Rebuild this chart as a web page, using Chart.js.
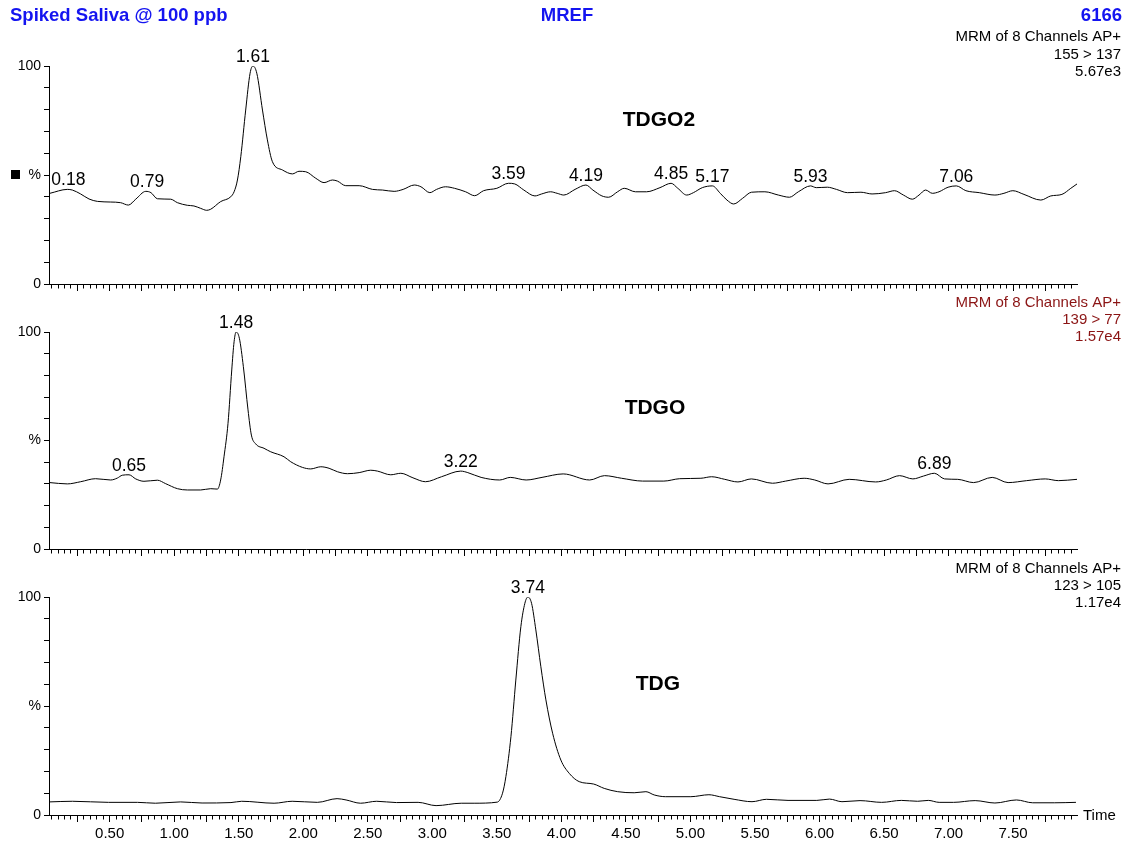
<!DOCTYPE html>
<html><head><meta charset="utf-8">
<script src="https://cdn.jsdelivr.net/npm/chart.js@4.4.0/dist/chart.umd.min.js"></script>
<style>
html,body{margin:0;padding:0;background:#fff;}
#wrap{position:relative;width:1128px;height:843px;overflow:hidden;background:#fff;}
canvas{position:absolute;left:0;}
</style></head><body>
<div id="wrap">
<canvas id="c1" width="1128" height="300" style="top:0px"></canvas>
<canvas id="c2" width="1128" height="275" style="top:290px"></canvas>
<canvas id="c3" width="1128" height="288" style="top:555px"></canvas>
</div>
<script>
// ---------------- DATA ----------------
const xTickLabels = ['0.50','1.00','1.50','2.00','2.50','3.00','3.50','4.00','4.50','5.00','5.50','6.00','6.50','7.00','7.50'];
const yTickValues = [0, 50, 100];
const yTickTexts  = ['0', '%', '100'];

// TDGO2  (MRM 155 > 137, 5.67e3)
const tdgo2Time = [
 0.037,0.172,0.211,0.275,0.340,0.405,0.508,0.585,0.645,0.702,
 0.78,0.82,0.870,0.973,1.025,1.102,1.153,1.205,1.252,1.283,
 1.360,1.438,1.464,1.490,1.516,1.554,1.588,1.61,1.640,1.684,
 1.722,1.761,1.839,1.916,1.967,2.019,2.097,2.161,2.226,2.265,
 2.329,2.433,2.536,2.614,2.704,2.774,2.860,2.912,2.981,3.033,
 3.102,3.172,3.258,3.328,3.397,3.500,3.59,3.639,3.709,3.795,
 3.847,3.916,3.967,4.019,4.106,4.19,4.244,4.314,4.366,4.435,
 4.487,4.574,4.660,4.764,4.85,4.902,4.971,5.023,5.092,5.17,
 5.231,5.283,5.335,5.404,5.473,5.577,5.681,5.767,5.836,5.93,
 5.975,6.061,6.131,6.217,6.321,6.407,6.512,6.581,6.650,6.719,
 6.771,6.822,6.874,6.926,6.996,7.06,7.134,7.238,7.359,7.429,
 7.498,7.584,7.715,7.792,7.878,7.947,7.995];
const tdgo2Int = [
 41.6,43.4,43.1,41.3,39.0,37.9,37.6,37.3,36.2,38.9,
 42.5,41.9,39.1,38.9,37.3,36.1,35.8,34.7,33.8,34.3,
 37.8,40.0,42.3,47.7,58.4,79.8,96.7,100,96.7,79.8,
 66.1,56.1,52.3,50.5,51.7,51.5,48.5,46.5,47.7,47.2,
 45.1,45.1,43.4,43.1,42.5,43.4,45.4,44.6,41.9,43.4,
 44.6,43.9,42.3,40.5,42.8,43.9,46.2,45.9,43.1,40.4,
 41.3,42.3,41.6,40.8,43.4,45.4,43.1,40.4,39.8,42.3,
 43.9,42.3,42.3,44.2,46.2,43.9,40.8,41.9,44.2,45.0,
 41.6,38.5,36.7,39.3,42.1,42.3,40.8,39.8,42.3,45.0,
 44.2,44.4,43.4,41.9,42.1,41.3,41.9,42.8,40.8,38.9,
 40.8,43.1,41.6,42.3,44.4,45.0,42.8,41.9,40.8,41.6,
 42.8,41.1,38.5,40.4,41.1,43.9,45.9];
const tdgo2Peaks = ['0.18','0.79','1.61','3.59','4.19','4.85','5.17','5.93','7.06'];

// TDGO  (MRM 139 > 77, 1.57e4)
const tdgoTime = [
 0.037,0.172,0.275,0.391,0.508,0.560,0.598,0.65,0.702,0.766,
 0.870,0.934,1.025,1.102,1.205,1.283,1.335,1.360,1.386,1.417,
 1.446,1.464,1.48,1.505,1.536,1.572,1.598,1.632,1.696,1.748,
 1.851,1.903,1.994,2.058,2.136,2.200,2.265,2.343,2.433,2.523,
 2.575,2.678,2.756,2.85,2.947,3.071,3.22,3.275,3.378,3.522,
 3.604,3.727,3.850,4.014,4.219,4.334,4.466,4.629,4.794,4.917,
 5.081,5.164,5.266,5.368,5.472,5.635,5.738,5.881,5.963,6.066,
 6.230,6.435,6.518,6.620,6.723,6.805,6.89,6.969,7.071,7.194,
 7.338,7.461,7.605,7.749,7.851,7.995];
const tdgoInt = [
 30.6,30.0,31.0,32.4,31.8,32.7,34.0,34.2,32.3,31.2,
 31.7,30.1,27.8,27.2,27.2,27.8,27.6,31.8,42.5,57.9,
 82.5,95.5,100,97.1,84.0,64.1,52.5,48.4,46.4,44.8,
 42.5,40.2,37.6,36.9,37.9,37.2,35.6,34.7,35.2,36.3,
 35.9,34.2,34.9,32.8,31.0,33.3,35.9,35.2,33.0,31.8,
 33.0,31.8,33.0,34.6,31.8,33.8,32.6,31.3,31.3,32.4,
 32.6,33.3,32.1,30.9,32.3,30.3,31.3,32.6,31.8,30.0,
 32.1,30.9,31.8,33.8,32.3,33.6,34.9,32.3,32.1,30.6,
 33.0,30.6,31.5,32.3,31.5,32.1];
const tdgoPeaks = ['0.65','1.48','3.22','6.89'];

// TDG  (MRM 123 > 105, 1.17e4)
const tdgTime = [
 0.032,0.212,0.491,0.715,0.854,1.050,1.216,1.440,1.523,1.774,
 1.914,2.109,2.262,2.332,2.444,2.569,2.722,2.890,3.029,3.224,
 3.324,3.503,3.544,3.570,3.609,3.647,3.686,3.717,3.74,3.769,
 3.802,3.841,3.880,3.932,3.996,4.061,4.138,4.250,4.332,4.436,
 4.564,4.655,4.719,4.808,5.003,5.143,5.226,5.338,5.477,5.589,
 5.756,5.979,6.077,6.174,6.314,6.481,6.634,6.760,6.843,6.927,
 7.039,7.206,7.359,7.526,7.652,7.819,7.987];
const tdgInt = [
 6.0,6.3,5.8,5.8,5.4,6.0,5.5,5.7,6.3,5.4,
 6.3,5.8,7.5,6.9,5.4,6.3,5.7,5.8,4.3,5.4,
 5.4,5.9,10.0,17.6,35.9,61.9,86.4,97.1,100,97.1,
 84.9,68.0,52.8,37.5,25.2,19.1,15.3,14.2,12.2,10.7,
 10.2,10.7,9.2,8.4,8.4,9.3,8.4,7.2,6.1,7.2,
 6.7,6.7,7.3,6.1,6.6,5.8,6.7,6.3,6.7,5.8,
 5.8,6.6,5.5,6.9,5.6,5.6,5.8];
const tdgPeaks = ['3.74'];

// ---------------- RENDER ----------------
const FONT = "'Liberation Sans', Arial, Helvetica, sans-serif";
const X_MIN = 0.03, X_MAX = 7.995;
const BLUE = '#1414f0', RED = '#8b1414';

const annotPlugin = {
  id: 'annot',
  afterDraw(chart, args, o) {
    const ctx = chart.ctx, xs = chart.scales.x, ys = chart.scales.y;
    const pts = chart.data.datasets[0].data;
    ctx.save();
    ctx.fillStyle = '#000';
    ctx.textAlign = 'center';
    ctx.textBaseline = 'alphabetic';
    ctx.font = '17.5px ' + FONT;
    (o.peaks || []).forEach(lbl => {
      const p = parseFloat(lbl);
      let best = null;
      pts.forEach(pt => { if (Math.abs(pt.x - p) <= 0.045 && (best === null || pt.y > best)) best = pt.y; });
      if (best === null) best = 0;
      ctx.fillText(lbl, xs.getPixelForValue(p), ys.getPixelForValue(best) - 4);
    });
    if (o.name) {
      ctx.font = 'bold 21px ' + FONT;
      ctx.textBaseline = 'middle';
      ctx.fillText(o.name.text, xs.getPixelForValue(o.name.t), ys.getPixelForValue(o.name.v));
    }
    (o.texts || []).forEach(t => {
      ctx.font = t.font + ' ' + FONT;
      ctx.fillStyle = t.color;
      ctx.textAlign = t.align;
      ctx.textBaseline = 'middle';
      ctx.fillText(t.text, t.x, t.y);
    });
    if (o.square) {
      const y = ys.getPixelForValue(50);
      ctx.fillStyle = '#000';
      ctx.fillRect(11, Math.round(y) - 5, 9, 9);
    }
    if (o.timeLabel) {
      ctx.font = '15px ' + FONT;
      ctx.fillStyle = '#000';
      ctx.textAlign = 'left';
      ctx.textBaseline = 'middle';
      ctx.fillText('Time', xs.right + 6, xs.top + 1);
    }
    ctx.restore();
  }
};

function makeChart(id, times, values, cfg) {
  const data = times.map((t, i) => ({x: t, y: values[i]}));
  return new Chart(document.getElementById(id), {
    type: 'line',
    data: {datasets: [{data, borderColor: '#000', borderWidth: 1, pointRadius: 0,
      cubicInterpolationMode: 'monotone', fill: false}]},
    options: {
      responsive: false, animation: false, devicePixelRatio: 1,
      layout: {padding: {top: cfg.padTop, right: 51, left: 0, bottom: 0}},
      plugins: {legend: {display: false}, tooltip: {enabled: false}, annot: cfg.annot},
      scales: {
        x: {
          type: 'linear', min: X_MIN, max: X_MAX,
          afterFit(s) { s.height = cfg.xh; },
          ticks: {
            stepSize: 0.05, autoSkip: false, includeBounds: false, maxRotation: 0, minRotation: 0,
            padding: 3, color: '#000', font: {family: FONT, size: 15},
            callback: (v) => {
              if (!cfg.showLabels) return '';
              const s = Number(v).toFixed(2);
              return xTickLabels.indexOf(s) >= 0 ? s : '';
            }
          },
          grid: {
            drawOnChartArea: false, drawTicks: true, tickLength: 7, tickColor: '#000', tickWidth: 1,
            tickBorderDash: (c) => {
              const v = c.tick ? c.tick.value : 0;
              const q = v / 0.25;
              return Math.abs(q - Math.round(q)) < 1e-6 ? [] : [3.5, 20];
            }
          },
          border: {display: true, color: '#000', width: 1}
        },
        y: {
          min: 0, max: 100,
          afterFit(s) { s.width = 49; },
          ticks: {
            stepSize: 10, autoSkip: false, padding: 3, color: '#000', font: {family: FONT, size: 14},
            callback: (v) => { const k = yTickValues.indexOf(v); return k >= 0 ? yTickTexts[k] : ''; }
          },
          grid: {drawOnChartArea: false, drawTicks: true, tickLength: 5, tickColor: '#000'},
          border: {display: true, color: '#000', width: 1}
        }
      }
    },
    plugins: [annotPlugin]
  });
}

makeChart('c1', tdgo2Time, tdgo2Int, {
  padTop: 66, xh: 16, showLabels: false,
  annot: {
    peaks: tdgo2Peaks, square: true,
    name: {text: 'TDGO2', t: 4.756, v: 75},
    texts: [
      {text: 'Spiked Saliva @ 100 ppb', x: 10, y: 16, align: 'left', font: 'bold 18.5px', color: BLUE},
      {text: 'MREF', x: 567, y: 16, align: 'center', font: 'bold 18.5px', color: BLUE},
      {text: '6166', x: 1122, y: 16, align: 'right', font: 'bold 18.5px', color: BLUE},
      {text: 'MRM of 8 Channels AP+', x: 1121, y: 37, align: 'right', font: '15px', color: '#000'},
      {text: '155 > 137', x: 1121, y: 55, align: 'right', font: '15px', color: '#000'},
      {text: '5.67e3', x: 1121, y: 72, align: 'right', font: '15px', color: '#000'}
    ]
  }
});

makeChart('c2', tdgoTime, tdgoInt, {
  padTop: 42, xh: 16, showLabels: false,
  annot: {
    peaks: tdgoPeaks,
    name: {text: 'TDGO', t: 4.725, v: 65},
    texts: [
      {text: 'MRM of 8 Channels AP+', x: 1121, y: 13, align: 'right', font: '15px', color: RED},
      {text: '139 > 77', x: 1121, y: 30, align: 'right', font: '15px', color: RED},
      {text: '1.57e4', x: 1121, y: 47, align: 'right', font: '15px', color: RED}
    ]
  }
});

makeChart('c3', tdgTime, tdgInt, {
  padTop: 42, xh: 28, showLabels: true,
  annot: {
    peaks: tdgPeaks, timeLabel: true,
    name: {text: 'TDG', t: 4.748, v: 60},
    texts: [
      {text: 'MRM of 8 Channels AP+', x: 1121, y: 14, align: 'right', font: '15px', color: '#000'},
      {text: '123 > 105', x: 1121, y: 31, align: 'right', font: '15px', color: '#000'},
      {text: '1.17e4', x: 1121, y: 48, align: 'right', font: '15px', color: '#000'}
    ]
  }
});
</script>
</body></html>
